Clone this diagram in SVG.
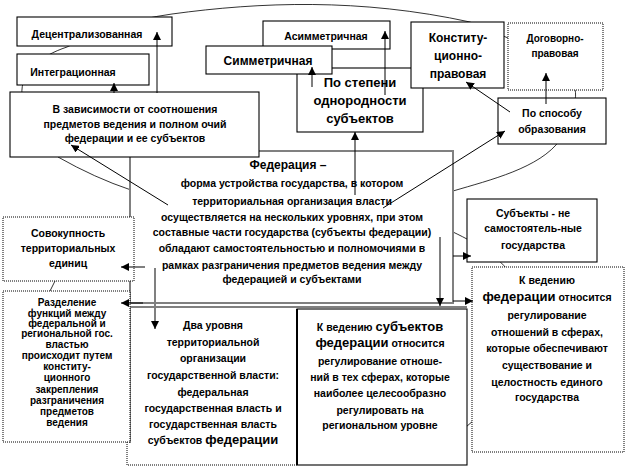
<svg xmlns="http://www.w3.org/2000/svg" width="627" height="468" viewBox="0 0 627 468">
<defs>
<marker id="ah" markerUnits="userSpaceOnUse" markerWidth="8" markerHeight="8" viewBox="0 0 8 8" refX="8" refY="4" orient="auto">
<path d="M0,0 L8,4 L0,8 z" fill="#000"/>
</marker>
</defs>
<style>
text{font-family:"Liberation Sans",Arial,sans-serif;font-weight:bold;fill:#000;text-anchor:middle}
.f11{font-size:10.5px}
.f12{font-size:12px}
.f13{font-size:13px}
.f10{font-size:10px}
.big{font-size:13px}
.box{fill:#fff;stroke:#000;stroke-width:1.1}
.dbox{fill:#fff;stroke:#000;stroke-width:1;stroke-dasharray:1 1}
.gbox{fill:#fff;stroke:#808080;stroke-width:2}
.deco{fill:none;stroke:#000;stroke-width:0.8}
.c{fill:none;stroke:#000;stroke-width:1;marker-end:url(#ah)}
.cg{fill:none;stroke:#808080;stroke-width:2;marker-end:url(#ah)}
</style>
<rect width="627" height="468" fill="#fff"/>
<g id="outline">
<path class="deco" d="M22,95 C20,72 40,56 67,47 C100,30 130,20 172,14 C260,2 360,-2 470,22 L508,38 C555,55 580,80 575,100 L560,140 C540,168 490,180 453,191"/>
<path class="deco" d="M58,157 Q95,178 131,190"/>
<path class="deco" d="M453,232 C480,245 495,255 506,268"/>
<path class="deco" d="M474,420 L466,427"/>
<path class="deco" d="M55,281 L50,291"/>
</g>
<g id="n-federation">
<rect class="gbox" x="130" y="151" width="323" height="152"/>
<text class="f12" x="288" y="169">Федерация –</text>
<text class="f11" x="292" y="187">форма устройства государства, в котором</text>
<text class="f11" x="292" y="205">территориальная организация власти</text>
<text class="f11" x="292" y="221">осуществляется на нескольких уровнях, при этом</text>
<text class="f11" x="292" y="236">составные части государства (субъекты федерации)</text>
<text class="f11" x="292" y="252">обладают самостоятельностью и полномочиями в</text>
<text class="f11" x="292" y="269">рамках разграничения предметов ведения между</text>
<text class="f11" x="292" y="283">федерацией и субъектами</text>
</g>
<g id="n-bottomframe">
<path d="M127,307 L467,307" stroke="#808080" stroke-width="2" fill="none"/>
</g>
<g id="n-two-levels">
<rect x="130" y="308" width="167" height="157" fill="#fff"/>
<path d="M127,308 L127,465 L297,465" fill="none" stroke="#000" stroke-width="1" stroke-dasharray="1 1"/>
<path d="M130,308 L130,443" fill="none" stroke="#000" stroke-width="1"/>
<text class="f11" x="213" y="329">Два уровня</text>
<text class="f11" x="213" y="346">территориальной</text>
<text class="f11" x="213" y="362">организации</text>
<text class="f11" x="213" y="379">государственной власти:</text>
<text class="f11" x="213" y="396">федеральная</text>
<text class="f11" x="213" y="412">государственная власть и</text>
<text class="f11" x="213" y="428">государственная власть</text>
<text class="f11" x="213" y="444">субъектов <tspan class="big">федерации</tspan></text>
</g>
<g id="n-subjects-competence">
<rect class="box" x="297" y="309" width="170" height="156"/>
<line x1="297" y1="309" x2="297" y2="465" stroke="#000" stroke-width="2"/>
<text class="f11" x="380" y="331">К ведению  <tspan class="big">субъектов</tspan></text>
<text class="f11" x="380" y="347"><tspan class="big">федерации</tspan> относится</text>
<text class="f11" x="380" y="365">регулирование отноше-</text>
<text class="f11" x="380" y="381">ний в тех сферах, которые</text>
<text class="f11" x="380" y="397">наиболее целесообразно</text>
<text class="f11" x="380" y="414">регулировать на</text>
<text class="f11" x="380" y="429">региональном уровне</text>
</g>
<g id="n-federation-competence">
<rect class="dbox" x="472" y="267" width="152" height="185"/>
<text class="f11" x="547" y="284">К ведению</text>
<text class="f11" x="547" y="301"><tspan class="big">федерации</tspan> относится</text>
<text class="f11" x="547" y="319">регулирование</text>
<text class="f11" x="547" y="336">отношений в сферах,</text>
<text class="f11" x="547" y="352">которые обеспечивают</text>
<text class="f11" x="547" y="369">существование и</text>
<text class="f11" x="547" y="386">целостность единого</text>
<text class="f11" x="547" y="401">государства</text>
</g>
<g id="n-not-states">
<rect class="box" x="467" y="199" width="130" height="63"/>
<text class="f11" x="533" y="217">Субъекты - не</text>
<text class="f11" x="533" y="232">самостоятель-ные</text>
<text class="f11" x="533" y="249">государства</text>
</g>
<g id="n-aggregate">
<rect class="dbox" x="3" y="217" width="131" height="64"/>
<text class="f11" x="68" y="237">Совокупность</text>
<text class="f11" x="68" y="252">территориальных</text>
<text class="f11" x="68" y="267">единиц</text>
</g>
<g id="n-division">
<rect class="dbox" x="3" y="291" width="127" height="151"/>
<text class="f10" x="67" y="306">Разделение</text>
<text class="f10" x="67" y="317">функций между</text>
<text class="f10" x="67" y="327">федеральной и</text>
<text class="f10" x="67" y="337">региональной гос.</text>
<text class="f10" x="67" y="348">властью</text>
<text class="f10" x="67" y="359">происходит путем</text>
<text class="f10" x="67" y="370">конститу-</text>
<text class="f10" x="67" y="381">ционного</text>
<text class="f10" x="67" y="393">закрепления</text>
<text class="f10" x="67" y="404">разграничения</text>
<text class="f10" x="67" y="415">предметов</text>
<text class="f10" x="67" y="426">ведения</text>
</g>
<g id="n-decentral">
<rect class="box" x="17" y="17" width="155" height="29"/>
<text class="f11" x="87" y="38">Децентрализованная</text>
</g>
<g id="n-integr">
<rect class="box" x="17" y="54" width="132" height="31"/>
<text class="f11" x="73" y="76">Интеграционная</text>
</g>
<g id="n-dependence">
<rect class="box" x="10" y="92" width="249" height="65"/>
<text class="f11" x="135" y="113">В зависимости от соотношения</text>
<text class="f11" x="135" y="128">предметов ведения и полном  очий</text>
<text class="f11" x="135" y="142">федерации и ее субъектов</text>
</g>
<g id="n-asym">
<rect class="box" x="263" y="21" width="127" height="28"/>
<text class="f11" x="326" y="40">Асимметричная</text>
</g>
<g id="n-homog">
<rect class="box" x="297" y="68" width="126" height="64"/>
<text class="f13" x="360" y="87">По степени</text>
<text class="f13" x="360" y="105">однородности</text>
<text class="f13" x="360" y="123">субъектов</text>
</g>
<g id="n-sym">
<rect class="box" x="206" y="46" width="126" height="28"/>
<text class="f12" x="268" y="65">Симметричная</text>
</g>
<g id="n-const">
<rect class="box" x="411" y="22" width="93" height="66"/>
<text class="f12" x="458" y="42">Конститу-</text>
<text class="f12" x="458" y="60">ционно-</text>
<text class="f12" x="458" y="78">правовая</text>
</g>
<g id="n-contract">
<rect class="dbox" x="508" y="23" width="95" height="67"/>
<text class="f10" x="555" y="42">Договорно-</text>
<text class="f10" x="555" y="57">правовая</text>
</g>
<g id="n-formation">
<rect class="box" x="498" y="98" width="108" height="46"/>
<text class="f11" x="552" y="117">По способу</text>
<text class="f11" x="552" y="133">образования</text>
</g>
<g id="connectors">
<path class="c" d="M157,93 L157,32"/>
<path class="c" d="M114,93 L114,83"/>
<path class="c" d="M312,87 L312,67"/>
<path class="c" d="M385,95 L385,31"/>
<path class="c" d="M355,195 L355,132"/>
<path class="c" d="M383,208 L505,131"/>
<path class="c" d="M510,112 L466,82"/>
<path class="c" d="M546,104 L546,73"/>
<path class="c" d="M168,205 L71,145"/>
<path class="c" d="M145,267 L121,267"/>
<path class="c" d="M143,303 L121,303"/>
<path class="cg" d="M155,268 L155,329"/>
<path class="cg" d="M440,237 L440,306"/>
<path class="c" d="M453,256 L471,256"/>
<path class="c" d="M453,301 L473,301"/>
</g>
</svg>
